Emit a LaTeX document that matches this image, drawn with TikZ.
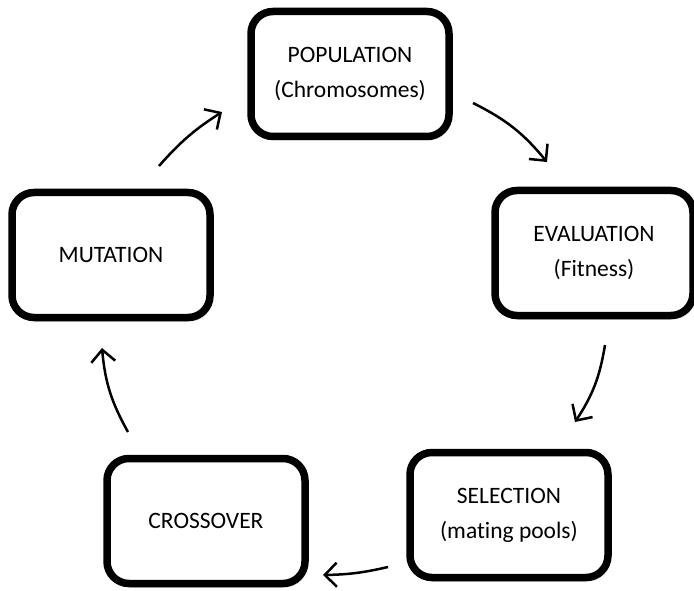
\documentclass[tikz,border=0pt]{standalone}
\usepackage{fontspec}
\setmainfont[Ligatures=NoCommon]{Carlito}
\usetikzlibrary{arrows.meta,shadows}
\begin{document}
\begin{tikzpicture}[x=1pt,y=-1pt,
  stage/.style={draw=black, fill=white, line width=7.5pt, rounded corners=22pt,
    minimum width=198pt, minimum height=125pt, align=center,
    font=\fontsize{23.5}{35}\selectfont,
    drop shadow={shadow xshift=2pt, shadow yshift=-4pt, opacity=0.35, fill=gray}},
  flow/.style={line width=2.5pt, -{Straight Barb[length=12pt,width=24pt,line width=2.5pt]}}
]
\useasboundingbox (0,0) rectangle (694,591);
\node[stage] (pop) at (350,74) {POPULATION\\(Chromosomes)};
\node[stage] (eval) at (594,253) {EVALUATION\\(Fitness)};
\node[stage] (sel) at (509,515) {SELECTION\\(mating pools)};
\node[stage] (cross) at (206,521) {CROSSOVER};
\node[stage] (mut) at (111,255) {MUTATION};

\coordinate (a1s) at (473,103); \coordinate (a1e) at (547,162);
\coordinate (a2s) at (605,345); \coordinate (a2e) at (575,422);
\coordinate (a3s) at (388,567); \coordinate (a3e) at (323,575);
\coordinate (a4s) at (128,432); \coordinate (a4e) at (102,348);
\coordinate (a5s) at (159,166); \coordinate (a5e) at (222,112);

\draw[flow] (a1s) to[bend left=12] (a1e);
\draw[flow] (a2s) to[bend left=12] (a2e);
\draw[flow] (a3s) to[bend left=6] (a3e);
\draw[flow] (a4s) to[bend left=12] (a4e);
\draw[flow] (a5s) to[bend left=8] (a5e);
\end{tikzpicture}
\end{document}
